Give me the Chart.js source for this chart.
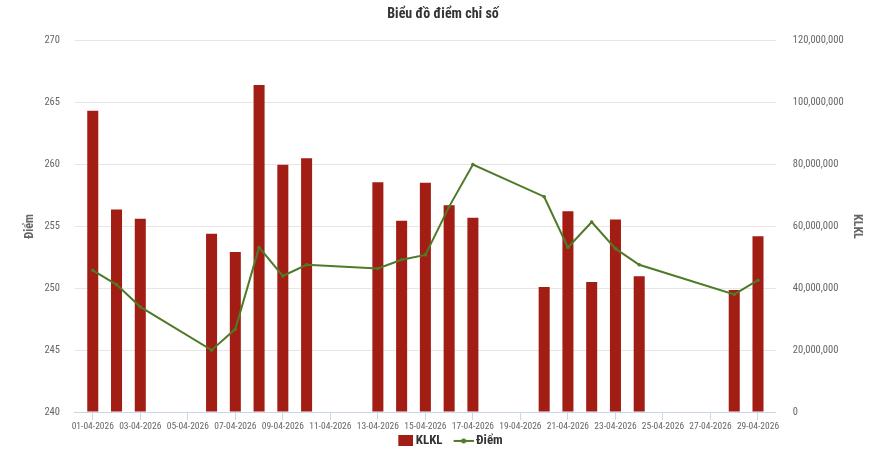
<!DOCTYPE html>
<html>
<head>
<meta charset="utf-8">
<script src="https://cdn.jsdelivr.net/npm/chart.js@4/dist/chart.umd.min.js"></script>
<style>
html,body{margin:0;padding:0;background:#fff;}
#wrap{width:883px;height:451px;position:relative;}
</style>
</head>
<body>
<div id="wrap"><canvas id="c" width="883" height="451"></canvas></div>
<script>
const dates = ["01-04-2026","02-04-2026","03-04-2026","06-04-2026","07-04-2026","08-04-2026","09-04-2026","10-04-2026","13-04-2026","14-04-2026","15-04-2026","16-04-2026","17-04-2026","20-04-2026","21-04-2026","22-04-2026","23-04-2026","24-04-2026","28-04-2026","29-04-2026"];
const klkl = [97400000,65500000,62500000,57600000,51700000,105700000,79900000,82000000,74300000,61800000,74100000,66800000,62800000,40400000,64900000,42000000,62200000,43900000,39400000,56800000];
const diem = [251.45,250.3,248.5,245.0,246.7,253.3,251.0,251.9,251.6,252.3,252.7,256.6,260.0,257.4,253.3,255.35,253.2,251.9,249.5,250.65];
const tickLabels = ["01-04-2026","03-04-2026","05-04-2026","07-04-2026","09-04-2026","11-04-2026","13-04-2026","15-04-2026","17-04-2026","19-04-2026","21-04-2026","23-04-2026","25-04-2026","27-04-2026","29-04-2026"];
const leftTicks = [240,245,250,255,260,265,270];
const rightTicks = [0,20000000,40000000,60000000,80000000,100000000,120000000];

const dayOf = s => parseInt(s.slice(0,2),10);
const FONT = "'Roboto Condensed','Open Sans Condensed',sans-serif";
const BAR = '#a21d14';
const LINE = '#4f7a28';

// legend icons: legend box width 26, icon content ends 4px right of the box
function mkLineIcon(){
  const c=document.createElement('canvas');c.width=34;c.height=8;
  const g=c.getContext('2d');
  g.strokeStyle=LINE;g.lineWidth=2;g.beginPath();g.moveTo(14,4);g.lineTo(34,4);g.stroke();
  g.fillStyle=LINE;g.beginPath();g.arc(24,4,2.5,0,Math.PI*2);g.fill();
  return c;
}
function mkBarIcon(){
  const c=document.createElement('canvas');c.width=34;c.height=11;
  const g=c.getContext('2d');g.fillStyle=BAR;g.fillRect(19,0,15,11);
  return c;
}
const lineIcon=mkLineIcon(), barIcon=mkBarIcon();

const barData = dates.map((d,i)=>({x:dayOf(d), y:klkl[i]}));
const lineData = dates.map((d,i)=>({x:dayOf(d), y:diem[i]}));
const tickDays = tickLabels.map(dayOf);

new Chart(document.getElementById('c'),{
  type:'bar',
  data:{
    datasets:[
      {label:'KLKL', type:'bar', data:barData, yAxisID:'y1', backgroundColor:BAR, borderWidth:0,
       categoryPercentage:0.58, barPercentage:0.8, order:1},
      {label:'Điểm', type:'line', data:lineData, yAxisID:'y', borderColor:LINE, backgroundColor:LINE,
       borderWidth:2, pointRadius:1.8, pointBackgroundColor:LINE, pointBorderWidth:0, tension:0, order:0}
    ]
  },
  options:{
    responsive:false,
    animation:false,
    layout:{padding:{left:22,right:19,top:2,bottom:0}},
    plugins:{
      title:{display:true,text:'Biểu đồ điểm chỉ số',color:'#333',font:{family:FONT,size:14,weight:'bold'},padding:{top:4,bottom:18}},
      legend:{position:'bottom',maxHeight:17.6,
        labels:{usePointStyle:true,pointStyleWidth:26,boxHeight:11,color:'#333',font:{family:FONT,size:13,weight:'bold'},padding:1,
          sort:(a,b)=>a.datasetIndex-b.datasetIndex,
          generateLabels:(chart)=>{
            const items=Chart.defaults.plugins.legend.labels.generateLabels(chart);
            items.forEach(it=>{it.pointStyle = it.datasetIndex===0?barIcon:lineIcon;});
            return items;
          }}
      },
      tooltip:{enabled:false}
    },
    scales:{
      x:{type:'linear',min:0.25,max:29.75,offset:false,
        afterBuildTicks:s=>{s.ticks=tickDays.map(v=>({value:v}));},
        ticks:{autoSkip:false,maxRotation:0,color:'#666',font:{family:FONT,size:9.5},padding:1,
          callback:(v)=>{const i=tickDays.indexOf(v);return i>=0?tickLabels[i]:'';}},
        grid:{drawOnChartArea:false,drawTicks:true,tickLength:8,color:'#ccd6eb',offset:false},
        border:{display:true,color:'#ccd6eb'}
      },
      y:{position:'left',min:240,max:270,
        afterBuildTicks:s=>{s.ticks=leftTicks.map(v=>({value:v}));},
        ticks:{color:'#666',font:{family:FONT,size:10.5},padding:15},
        grid:{color:'#e6e6e6',drawTicks:false},
        border:{display:false},
        title:{display:true,text:'Điểm',color:'#666',font:{family:FONT,size:12,weight:'bold'},padding:{top:1,bottom:-8}}
      },
      y1:{position:'right',min:0,max:120000000,
        afterBuildTicks:s=>{s.ticks=rightTicks.map(v=>({value:v}));},
        ticks:{color:'#666',font:{family:FONT,size:10.5},padding:17,callback:v=>v.toLocaleString('en-US')},
        grid:{drawOnChartArea:false,drawTicks:false},
        border:{display:false},
        title:{display:true,text:'KLKL',color:'#666',font:{family:FONT,size:12,weight:'bold'},padding:{top:0,bottom:-11}}
      }
    }
  }
});
</script>
</body>
</html>
